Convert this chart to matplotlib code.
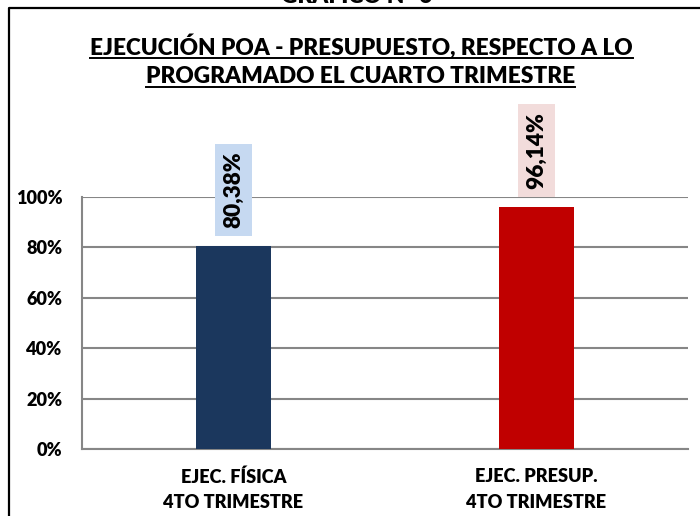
import matplotlib
matplotlib.use("Agg")
import matplotlib.pyplot as plt
from matplotlib.lines import Line2D

categories = ["EJEC. FÍSICA\n4TO TRIMESTRE", "EJEC. PRESUP.\n4TO TRIMESTRE"]
values = [0.8038, 0.9614]
value_labels = ["80,38%", "96,14%"]
bar_colors = ["#1B375D", "#C00000"]
label_box_colors = ["#C6D9F1", "#F2DCDB"]
yticks = [0, 0.2, 0.4, 0.6, 0.8, 1.0]
ytick_labels = ["0%", "20%", "40%", "60%", "80%", "100%"]
title_lines = ["EJECUCIÓN POA - PRESUPUESTO, RESPECTO A LO",
               "PROGRAMADO EL CUARTO TRIMESTRE"]
header = "GRÁFICO N° 6"

FONT = ["Lato", "DejaVu Sans"]
WEIGHT = "heavy"
plt.rcParams["font.family"] = FONT
plt.rcParams["font.weight"] = WEIGHT

W, H = 700, 516
fig = plt.figure(figsize=(7, 5.16), dpi=100)


def fx(px):
    return px / W


def fy(py):
    return 1 - py / H


renderer = fig.canvas.get_renderer()


def fit(t, target, dim="w"):
    bb = t.get_window_extent(renderer)
    size = bb.width if dim == "w" else bb.height
    t.set_fontsize(t.get_fontsize() * target / size)
    return t.get_fontsize()


ax = fig.add_axes([fx(82), fy(449), fx(688) - fx(82), fy(197) - fy(449)])
xpos = list(range(len(categories)))
ax.bar(xpos, values, width=0.25, color=bar_colors, zorder=3)
ax.set_xlim(-0.5, 1.5)
ax.set_ylim(0, 1)
ax.set_yticks(yticks)
ax.set_yticklabels(ytick_labels, fontweight=WEIGHT, color="black")
ax.set_xticks(xpos)
ax.set_xticklabels(categories, fontweight=WEIGHT, color="black", linespacing=1.6)
ax.grid(axis="y", color="#868686", lw=1.5, zorder=0)
ax.set_axisbelow(True)
for s in ["top", "right"]:
    ax.spines[s].set_visible(False)
for s in ["left", "bottom"]:
    ax.spines[s].set_color("#868686")
    ax.spines[s].set_linewidth(1.5)
ax.tick_params(length=0)
ax.tick_params(axis="y", pad=14)
ax.tick_params(axis="x", pad=14)

# fit tick label sizes
fig.canvas.draw()
ylabs = ax.get_yticklabels()
s = fit(ylabs[-1], 46.7)
for t in ylabs:
    t.set_fontsize(s)
xlabs = ax.get_xticklabels()
s = fit(xlabs[0], 141)
for t in xlabs:
    t.set_fontsize(s)

# data labels
for i, (v, lbl, bc) in enumerate(zip(values, value_labels, label_box_colors)):
    t = ax.annotate(lbl, xy=(xpos[i], v), xytext=(0, 13), textcoords="offset points",
                    rotation=90, ha="center", va="bottom", fontweight=WEIGHT,
                    color="black", fontsize=16, annotation_clip=False,
                    bbox=dict(boxstyle="square,pad=0.35", fc=bc, ec="none"))
    fit(t, 77, "h")

# title
t1 = fig.text(fx(361.5), fy(55), title_lines[0], ha="center", va="baseline",
              fontweight=WEIGHT, fontsize=18)
ts = fit(t1, 543)
t2 = fig.text(fx(360.5), fy(83.3), title_lines[1], ha="center", va="baseline",
              fontweight=WEIGHT, fontsize=ts)
fig.canvas.draw()
for t, uy in [(t1, 57.5), (t2, 86.8)]:
    bb = t.get_window_extent(renderer)
    fig.add_artist(Line2D([bb.x0 / W, bb.x1 / W], [fy(uy), fy(uy)],
                          color="black", lw=1.4))

# header (clipped at top, as in the reference)
th = fig.text(fx(357), fy(3), header, ha="center", va="baseline",
              fontweight=WEIGHT, fontsize=ts)

# outer frame
fig.add_artist(Line2D([fx(8.5), fx(8.5), 1.0], [0, fy(7.5), fy(7.5)],
                      color="black", lw=1.6))

fig.savefig("out.png", dpi=100)
